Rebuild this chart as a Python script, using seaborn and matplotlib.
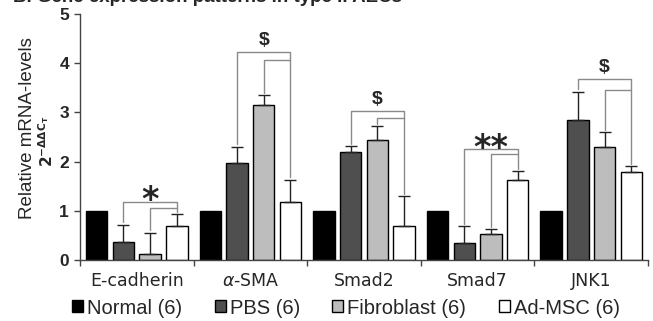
import matplotlib
matplotlib.use("Agg")
import matplotlib.pyplot as plt
import pandas as pd
import seaborn as sns

# Genes on the x axis and the four treatment groups.
genes = ["E-cadherin", "α-SMA", "Smad2", "Smad7", "JNK1"]
gene_labels = ["E-cadherin", r"$\alpha$-SMA", "Smad2", "Smad7", "JNK1"]
groups = ["Normal (6)", "PBS (6)", "Fibroblast (6)", "Ad-MSC (6)"]

# Bar heights (relative mRNA levels).
normal = [1.0, 1.0, 1.0, 1.0, 1.0]
pbs = [0.37, 1.97, 2.20, 0.34, 2.85]
fibroblast = [0.12, 3.15, 2.44, 0.52, 2.30]
ad_msc = [0.70, 1.17, 0.70, 1.63, 1.78]

# Upper error bar lengths.
normal_err = [0.0, 0.0, 0.0, 0.0, 0.0]
pbs_err = [0.35, 0.33, 0.11, 0.35, 0.57]
fibroblast_err = [0.43, 0.20, 0.28, 0.11, 0.30]
ad_msc_err = [0.23, 0.46, 0.60, 0.17, 0.13]

# Significance brackets: outer (PBS vs Ad-MSC), inner (Fibroblast vs Ad-MSC).
bracket_outer = [1.18, 4.23, 3.03, 2.25, 3.68]
bracket_inner = [1.06, 4.07, 2.89, 2.15, 3.45]
sig_marks = ["*", "$", "$", "**", "$"]

colors = ["#000000", "#4f4f4f", "#bdbdbd", "#ffffff"]

# Long table for seaborn.
values = [normal, pbs, fibroblast, ad_msc]
errors = [normal_err, pbs_err, fibroblast_err, ad_msc_err]
rows = []
for group, vals in zip(groups, values):
    for gene, v in zip(genes, vals):
        rows.append({"gene": gene, "group": group, "value": v})
df = pd.DataFrame(rows)

sns.set_style("white")
plt.rcParams["font.family"] = ["Liberation Sans", "DejaVu Sans"]

fig = plt.figure(figsize=(6.53, 3.21), dpi=100)
ax = fig.add_axes([80 / 653, 61 / 321, 568 / 653, 246 / 321])

sns.barplot(
    data=df, x="gene", y="value", hue="group", palette=colors,
    edgecolor="black", linewidth=1, width=0.94, gap=0.2,
    errorbar=None, ax=ax,
)

# One-sided error bars on top of each bar.
centers = []
for container, err, vals in zip(ax.containers, errors, values):
    xs = [b.get_x() + b.get_width() / 2 for b in container]
    centers.append(xs)
    if max(err) > 0:
        ax.errorbar(xs, vals, yerr=[[0] * len(err), err], fmt="none",
                    ecolor="#222222", elinewidth=1, capsize=4, capthick=1)

# Brackets and significance marks.
line_kw = dict(color="#8a8a8a", lw=1)
for i in range(len(genes)):
    x_pbs, x_fib, x_msc = centers[1][i], centers[2][i], centers[3][i]
    top_pbs = pbs[i] + pbs_err[i] + 0.05
    top_fib = fibroblast[i] + fibroblast_err[i] + 0.05
    top_msc = ad_msc[i] + ad_msc_err[i] + 0.05
    ax.plot([x_pbs, x_pbs, x_msc, x_msc],
            [top_pbs, bracket_outer[i], bracket_outer[i], top_msc], **line_kw)
    ax.plot([x_fib, x_fib, x_msc],
            [top_fib, bracket_inner[i], bracket_inner[i]], **line_kw)
    mark = sig_marks[i]
    if "*" in mark:
        ax.text((x_pbs + x_msc) / 2, bracket_outer[i] - 0.17, mark,
                ha="center", va="baseline", fontsize=24, fontweight="bold",
                family="DejaVu Sans")
    else:
        ax.text((x_pbs + x_msc) / 2, bracket_outer[i] + 0.05, mark,
                ha="center", va="bottom", fontsize=14, fontweight="bold")

ax.set_ylim(0, 5)
ax.set_xlim(-0.5, 4.5)
ax.set_yticks([0, 1, 2, 3, 4, 5])
ax.set_yticklabels(["0", "1", "2", "3", "4", "5"], fontsize=12.5, fontweight="bold")
ax.tick_params(axis="y", direction="out", length=4, width=1, color="#444444",
               left=True, pad=4)
ax.set_xticks(range(len(genes)))
ax.set_xticklabels(gene_labels, fontsize=12.5, family="DejaVu Sans")
ax.set_xticks([i - 0.5 for i in range(len(genes) + 1)], minor=True)
ax.tick_params(axis="x", which="major", length=0, pad=9)
ax.tick_params(axis="x", which="minor", direction="out", length=4, width=1,
               color="#444444", bottom=True)
ax.set_xlabel("")
ax.set_ylabel("")
for side in ["top", "right"]:
    ax.spines[side].set_visible(False)
for side in ["left", "bottom"]:
    ax.spines[side].set_color("#444444")
    ax.spines[side].set_linewidth(1)

# Y axis labels as figure text.
fig.text(28 / 653, 1 - 128 / 321, "Relative mRNA-levels", rotation=90,
         ha="center", va="center", fontsize=13.5)
fig.text(47 / 653, 1 - 141 / 321, r"$\mathbf{2^{-\Delta\Delta C_T}}$",
         rotation=90, ha="center", va="center", fontsize=11)

# Title, cut off at the top edge as in the source.
fig.text(13 / 653, 1 - 2.5 / 321, "B. Gene expression patterns in type II AECs",
         ha="left", va="baseline", fontsize=13.5, fontweight="bold")

sns.move_legend(
    ax, "center", bbox_to_anchor=(346 / 653, 13 / 321),
    bbox_transform=fig.transFigure, ncol=4, frameon=False, title=None,
    fontsize=14.5, handlelength=0.55, handleheight=0.55, handletextpad=0.2,
    columnspacing=1.6, borderpad=0, borderaxespad=0,
)

fig.savefig("out.png", dpi=100)
